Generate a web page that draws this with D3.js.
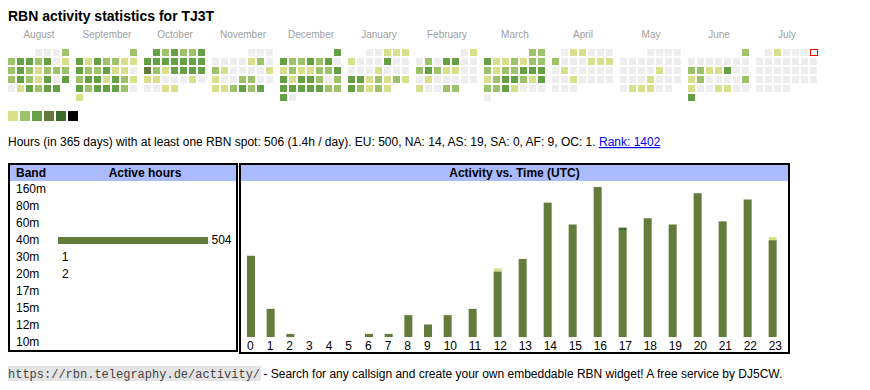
<!DOCTYPE html>
<html><head><meta charset="utf-8">
<script src="https://cdn.jsdelivr.net/npm/d3@7"></script>
<style>
body{margin:0;background:#fff}
svg{display:block}
text{font-family:"Liberation Sans",Arial,sans-serif}
</style>
</head><body>
<svg id="c" width="870" height="390"></svg>
<script>
// ---------- DATA ----------
const titleText = "RBN activity statistics for TJ3T";
const monthNames = ["August","September","October","November","December","January","February","March","April","May","June","July"];
const firstMonth = new Date(2024, 7, 1);
// activity level per day (0 = none) for each month
const aug = [0,0,0,2, 2,3,3,2,3,0,1, 2,3,2,1,2,2,2, 2,3,2,1,3,0,3, 0,1,3,2,3,3];
const sep = [2, 3,1,3,2,2,1,1, 3,2,2,3,1,1,0, 2,3,3,1,3,2,1, 3,2,3,3,3,2,0, 1];
const oct = [3,2,3,2,2,3, 3,3,3,3,3,3,3, 4,2,1,3,3,3,3, 1,1,0,0,0,1,0, 0,0,1,1];
const nov = [0,0,0, 0,0,0,0,1,2,0, 2,1,0,0,0,0,1, 1,0,0,2,2,0,0, 1,1,2,3,2,3];
const dec = [3, 3,2,2,3,2,3,0, 1,2,1,1,2,2,3, 3,1,3,3,2,0,2, 3,3,3,3,3,2,2, 3,0];
const jan = [0,0,1,1,1, 1,0,0,0,3,0,0, 0,0,0,1,0,0,0, 3,3,1,2,1,2,1, 3,2,1,2,1];
const feb = [0,1, 0,2,0,3,3,0,0, 2,3,2,1,1,0,0, 0,1,0,0,0,0,0, 1,0,0,2,2];
const mar = [2,2, 3,1,1,2,1,2,2, 2,1,2,2,3,3,3, 1,2,3,3,2,1,3, 2,2,3,1,0,0,0, 0];
const apr = [0,1,1,0,0,0, 2,0,0,0,1,1,1, 0,1,0,0,0,0,0, 0,0,1,0,0,0,0, 0,0,0];
const may = [0,0,0,0, 0,0,0,0,0,0,0, 0,0,0,0,1,0,0, 0,0,0,1,0,0,0, 0,1,1,1,0,0];
const jun = [2, 0,0,0,0,0,0,0, 2,2,1,1,3,0,0, 1,2,0,0,0,0,2, 1,0,0,1,1,0,0, 3];
const jul = [0,1,0,0,0,0, 0,0,0,0,0,0,0, 0,0,0,0,0,0,0, 0,0,0,0,0,0,0, 0,0,0,0];
const monthLevels = [aug, sep, oct, nov, dec, jan, feb, mar, apr, may, jun, jul];
const todayMonth = 11, todayDay = 6;
const levelColors = ["#eeeeee","#d9e08b","#9dc26a","#66a044","#657a3a","#3b6b29","#000000"];
const legendLevels = [1,2,3,4,5,6];

const summaryText = "Hours (in 365 days) with at least one RBN spot: 506 (1.4h / day). EU: 500, NA: 14, AS: 19, SA: 0, AF: 9, OC: 1. ";
const rankText = "Rank: 1402";

const bands = ["160m","80m","60m","40m","30m","20m","17m","15m","12m","10m"];
const bandHours = [0,0,0,504,1,2,0,0,0,0];

const hourLabels = ["0","1","2","3","4","5","6","7","8","9","10","11","12","13","14","15","16","17","18","19","20","21","22","23"];
const hours40m = [26,9,1,0,0,0,1,1,7,4,7,9,21,25,43,36,48,34,38,36,46,37,44,31];
const hours30m = [0,0,0,0,0,0,0,0,0,0,0,0,0,0,0,0,0,1,0,0,0,0,0,0];
const hours20m = [0,0,0,0,0,0,0,0,0,0,0,0,1,0,0,0,0,0,0,0,0,0,0,1];
const stackKeys = ["40m","30m","20m"];
const stackColors = ["#637b3b","#3b6b29","#d9e08b"];

const footerUrl = "https://rbn.telegraphy.de/activity/";
const footerText = " - Search for any callsign and create your own embeddable RBN widget! A free service by DJ5CW.";

// ---------- DRAW ----------
const svg = d3.select("#c");

svg.append("text").attr("x", 8).attr("y", 20.5)
  .attr("font-size", 14).attr("font-weight", "bold").attr("fill", "#000").text(titleText);

// calendar
const monthX = d3.scaleLinear().domain([0, 1]).range([8, 76]);
const colX = d3.scaleLinear().domain([0, 1]).range([0, 9]);
const rowY = d3.scaleLinear().domain([0, 1]).range([49, 58]);
const cal = svg.append("g");
monthLevels.forEach((levels, mi) => {
  const mStart = d3.timeMonth.offset(firstMonth, mi);
  const x0 = monthX(mi);
  cal.append("text").attr("x", x0 + 31).attr("y", 38.3).attr("text-anchor", "middle")
    .attr("font-family", "DejaVu Sans").attr("font-size", 10).attr("fill", "#a0a0a0")
    .text(monthNames[mi]);
  const offset = (mStart.getDay() + 6) % 7;
  levels.forEach((lv, di) => {
    const pos = offset + di;
    const col = pos % 7, row = Math.floor(pos / 7);
    const isToday = (mi === todayMonth && di + 1 === todayDay);
    const r = cal.append("rect")
      .attr("x", x0 + colX(col)).attr("y", rowY(row)).attr("width", 7).attr("height", 7)
      .attr("fill", isToday ? "#fff" : levelColors[lv]);
    if (isToday) {
      r.attr("x", x0 + colX(col) + 0.5).attr("y", rowY(row) + 0.5).attr("width", 7).attr("height", 6)
       .attr("stroke", "#ff0000").attr("stroke-width", 1);
    }
  });
});

// legend
const legX = d3.scaleLinear().domain([0, 1]).range([8, 20]);
svg.append("g").selectAll("rect").data(legendLevels).join("rect")
  .attr("x", (d, i) => legX(i)).attr("y", 111).attr("width", 10).attr("height", 10)
  .attr("fill", d => levelColors[d]);

// summary line
const sum = svg.append("text").attr("x", 8).attr("y", 146).attr("font-size", 12).attr("fill", "#000");
sum.append("tspan").text(summaryText);
sum.append("tspan").attr("fill", "#0000ee").attr("text-decoration", "underline").text(rankText);

// left box: bands
const left = svg.append("g");
left.append("rect").attr("x", 10).attr("y", 165).attr("width", 226).attr("height", 16).attr("fill", "#aabbff");
left.append("rect").attr("x", 9).attr("y", 164).attr("width", 228).attr("height", 187)
  .attr("fill", "none").attr("stroke", "#000").attr("stroke-width", 2);
left.append("text").attr("x", 16).attr("y", 177).attr("font-size", 12).attr("font-weight", "bold").text("Band");
left.append("text").attr("x", 145).attr("y", 177).attr("font-size", 12).attr("font-weight", "bold")
  .attr("text-anchor", "middle").text("Active hours");
const bandY = d3.scaleLinear().domain([0, 1]).range([193, 210]);
const bandX = d3.scaleLinear().domain([0, d3.max(bandHours)]).range([58, 208]);
bands.forEach((b, i) => {
  left.append("text").attr("x", 16).attr("y", bandY(i)).attr("font-size", 12).text(b);
  if (bandHours[i] > 0) {
    const w = bandX(bandHours[i]) - bandX(0);
    if (w >= 1) {
      left.append("rect").attr("x", bandX(0)).attr("y", bandY(i) - 7)
        .attr("width", w).attr("height", 7).attr("fill", "#637b3b");
    }
    left.append("text").attr("x", bandX(bandHours[i]) + 3.5).attr("y", bandY(i)).attr("font-size", 12)
      .text(bandHours[i]);
  }
});

// right box: activity vs time
const right = svg.append("g");
right.append("rect").attr("x", 241).attr("y", 165).attr("width", 547).attr("height", 16).attr("fill", "#aabbff");
right.append("rect").attr("x", 240).attr("y", 164).attr("width", 549).attr("height", 189)
  .attr("fill", "none").attr("stroke", "#000").attr("stroke-width", 2);
right.append("text").attr("x", 514.5).attr("y", 177).attr("font-size", 12).attr("font-weight", "bold")
  .attr("text-anchor", "middle").text("Activity vs. Time (UTC)");

const weights = hourLabels.map(l => l.length + 2.69);
const cum = [0]; weights.forEach(w => cum.push(cum[cum.length - 1] + w));
const hx = d3.scaleLinear().domain([0, cum[cum.length - 1]]).range([247, 247 + 5.33 * cum[cum.length - 1]]);
const table = hourLabels.map((h, i) => ({hour: h, idx: i, "40m": hours40m[i], "30m": hours30m[i], "20m": hours20m[i]}));
const series = d3.stack().keys(stackKeys)(table);
const totals = table.map(d => d["40m"] + d["30m"] + d["20m"]);
const hy = d3.scaleLinear().domain([0, d3.max(totals)]).range([337, 187]);
right.append("g").selectAll("g").data(series).join("g")
  .attr("fill", (d, i) => stackColors[i])
  .selectAll("rect").data(d => d.filter(s => s[1] > s[0])).join("rect")
  .attr("x", d => hx(cum[d.data.idx])).attr("width", 8)
  .attr("y", d => hy(d[1])).attr("height", d => hy(d[0]) - hy(d[1]));
right.append("g").selectAll("text").data(hourLabels).join("text")
  .attr("x", (d, i) => hx(cum[i])).attr("y", 350).attr("font-size", 12).text(d => d);

// footer
const footer = svg.append("g");
const urlBg = footer.append("rect").attr("x", 8).attr("y", 366).attr("height", 15).attr("fill", "#e4e4e4");
const ft = footer.append("text").attr("x", 8).attr("y", 378).attr("font-size", 12);
const urlSpan = ft.append("tspan").attr("font-family", "Liberation Mono").attr("fill", "#444").text(footerUrl);
ft.append("tspan").attr("fill", "#000").text(footerText);
urlBg.attr("width", urlSpan.node().getComputedTextLength() + 1);
</script>
</body></html>
